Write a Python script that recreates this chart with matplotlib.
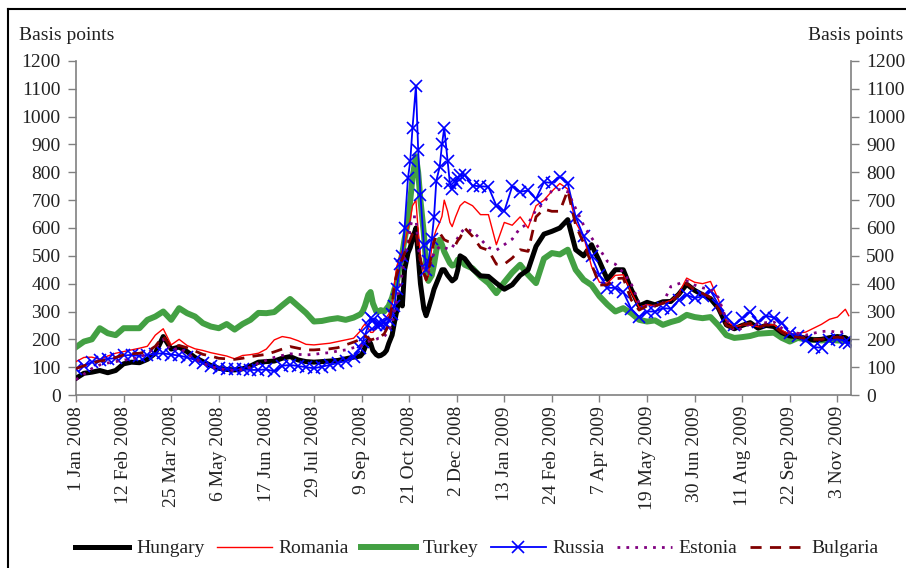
import matplotlib
matplotlib.use('Agg')
import matplotlib.pyplot as plt
from matplotlib.lines import Line2D
import pandas as pd

# sampling dates: weekly, then Mon/Wed/Fri through the autumn 2008 turmoil, then weekly again
weeks_a = pd.date_range('2008-01-01', '2008-09-02', freq='7D')
crisis = pd.bdate_range('2008-09-08', '2008-12-05', freq='C', weekmask='Mon Wed Fri')
weeks_b = pd.date_range('2008-12-09', '2009-11-10', freq='7D')
dates = weeks_a.append(crisis).append(weeks_b).append(pd.DatetimeIndex(['2009-11-13']))

hungary = [60, 78, 82, 88, 80, 88, 112, 118, 116, 128, 150, 210, 165, 172, 156, 135, 120, 106,
           96, 92, 90, 94, 104, 118, 120, 122, 132, 138, 126, 120, 118, 120, 122, 124, 130, 136,
           140, 150, 170, 195, 185, 160, 145, 140, 142, 150, 160, 185, 215, 260, 300, 360, 320, 450,
           510, 530, 560, 600, 500, 400, 310, 285, 310, 350, 380, 400, 430, 450, 450, 430, 420, 410,
           420, 450, 500,
           490, 452, 428, 426, 402, 380, 396, 430, 450, 534, 578, 588, 600, 630, 522, 500, 540, 480,
           415, 450, 450, 380, 320, 333, 324, 335, 336, 362, 398, 376, 360, 346, 312, 252, 238, 250,
           260, 240, 250, 246, 224, 212, 210, 204, 198, 200, 206, 210, 206, 198]
romania = [120, 135, 136, 128, 140, 150, 156, 162, 168, 175, 215, 238, 180, 200, 178, 166, 160, 152,
           146, 140, 130, 142, 145, 150, 165, 198, 210, 205, 195, 182, 180, 183, 186, 192, 198, 204,
           230, 245, 255, 240, 225, 225, 240, 248, 250, 260, 280, 290, 330, 400, 460, 500, 520, 540,
           600, 630, 680, 700, 590, 500, 430, 410, 430, 530, 570, 594, 620, 642, 700, 660, 620, 605,
           640, 660, 680,
           695, 680, 648, 648, 540, 620, 610, 640, 600, 680, 700, 732, 760, 740, 620, 570, 462, 405,
           402, 430, 432, 370, 315, 325, 320, 330, 340, 365, 420, 405, 400, 408, 342, 265, 246, 250,
           252, 245, 252, 252, 232, 218, 222, 226, 240, 254, 272, 280, 308, 285]
turkey = [172, 192, 200, 240, 222, 215, 240, 240, 240, 270, 282, 300, 270, 312, 294, 282, 258, 246,
          240, 255, 235, 255, 270, 295, 294, 298, 322, 345, 320, 295, 264, 266, 272, 276, 270, 278,
          290, 300, 320, 360, 370, 330, 300, 300, 305, 300, 310, 320, 350, 380, 400, 470, 510, 560,
          620, 700, 780, 858, 800, 700, 580, 470, 410, 430, 470, 520, 558, 540, 515, 490, 474, 465,
          470, 486, 490,
          468, 455, 425, 402, 366, 405, 440, 468, 432, 402, 490, 510, 505, 522, 450, 414, 395, 355,
          325, 300, 312, 294, 270, 264, 268, 252, 262, 270, 288, 280, 276, 280, 250, 215, 205, 208,
          212, 220, 222, 224, 205, 192, 205, 200, 198, 196, 198, 196, 195, 195]
russia = [95, 105, 118, 126, 130, 132, 142, 144, 140, 144, 148, 150, 145, 142, 135, 126, 114, 104,
          98, 94, 92, 92, 90, 90, 92, 85, 105, 108, 104, 100, 96, 102, 108, 115, 122, 138,
          170, 190, 215, 250, 275, 270, 250, 255, 255, 262, 250, 270, 290, 320, 380, 470, 500, 600,
          780, 840, 960, 1110, 880, 720, 540, 450, 480, 560, 640, 770, 820, 900, 960, 840, 760, 740,
          760, 780, 790,
          790, 752, 750, 748, 680, 660, 750, 730, 735, 705, 765, 762, 785, 760, 640, 570, 498, 430,
          385, 385, 370, 310, 280, 300, 300, 312, 310, 340, 360, 348, 355, 375, 325, 280, 252, 275,
          300, 262, 285, 278, 258, 222, 212, 196, 172, 170, 196, 202, 192, 186]
estonia = [55, 75, 95, 108, 115, 120, 125, 130, 135, 150, 170, 200, 160, 170, 150, 130, 115, 102,
           95, 90, 88, 92, 100, 115, 125, 135, 142, 148, 146, 144, 146, 150, 152, 158, 162, 170,
           175, 180, 185, 192, 195, 195, 200, 204, 205, 210, 220, 235, 250, 300, 340, 390, 440, 500,
           550, 600, 640, 640, 534, 480, 450, 440, 438, 490, 510, 520, 534, 534, 530, 525, 522, 530,
           550, 565, 580,
           598, 588, 560, 530, 520, 540, 560, 600, 615, 665, 690, 735, 738, 730, 670, 610, 565, 525,
           480, 470, 440, 400, 330, 320, 320, 330, 390, 400, 410, 395, 385, 380, 350, 270, 230, 240,
           255, 255, 260, 262, 240, 225, 222, 215, 222, 228, 230, 225, 228, 225]
bulgaria = [95, 105, 115, 122, 126, 135, 144, 148, 150, 156, 175, 212, 170, 178, 170, 158, 146, 140,
            132, 130, 128, 132, 138, 142, 146, 155, 165, 174, 168, 162, 162, 164, 166, 170, 180, 190,
            200, 210, 212, 205, 198, 200, 205, 208, 210, 220, 235, 255, 320, 400, 430, 470, 490, 510,
            540, 560, 580, 590, 530, 486, 440, 414, 440, 510, 550, 570, 582, 570, 558, 552, 552, 545,
            540, 555, 565,
            600, 570, 530, 520, 470, 470, 492, 522, 516, 640, 668, 660, 660, 735, 610, 546, 470, 395,
            396, 418, 420, 342, 305, 320, 320, 330, 335, 360, 400, 378, 365, 350, 310, 250, 240, 252,
            258, 242, 252, 248, 225, 210, 208, 204, 200, 200, 205, 208, 205, 198]

tick_dates = pd.date_range('2008-01-01', periods=17, freq='42D')
tick_labels = ['1 Jan 2008', '12 Feb 2008', '25 Mar 2008', '6 May 2008', '17 Jun 2008',
               '29 Jul 2008', '9 Sep 2008', '21 Oct 2008', '2 Dec 2008', '13 Jan 2009',
               '24 Feb 2009', '7 Apr 2009', '19 May 2009', '30 Jun 2009', '11 Aug 2009',
               '22 Sep 2009', '3 Nov 2009']

plt.rcParams['font.family'] = ['Liberation Serif', 'DejaVu Serif']
txt = '#222222'
axis_grey = '#808080'

fig = plt.figure(figsize=(9.06, 5.68), dpi=100)
ax = fig.add_axes([76 / 906, 1 - 395 / 568, (851 - 76) / 906, (395 - 61) / 568])

l_hun, = ax.plot(dates, hungary, color='black', lw=3.6, zorder=3, solid_joinstyle='round')
l_rom, = ax.plot(dates, romania, color='#ff0000', lw=1.0, zorder=4)
l_tur, = ax.plot(dates, turkey, color='#43a043', lw=4.3, zorder=2)
l_rus, = ax.plot(dates, russia, color='#0000ff', lw=1.3, marker='x', ms=8, mew=1.2, zorder=5)
l_est, = ax.plot(dates, estonia, color='#800080', lw=2, ls=(0, (1, 2.2)), zorder=6)
l_bul, = ax.plot(dates, bulgaria, color='#800000', lw=2, ls=(0, (4, 3)), zorder=7)

ax.set_ylim(0, 1200)
ax.set_yticks(range(0, 1201, 100))
ax.set_xlim(pd.Timestamp('2008-01-01'), pd.Timestamp('2009-11-15'))
ax.set_xticks(tick_dates)
ax.set_xticklabels(tick_labels, rotation=90, va='top', ha='center')

for side in ['top', 'right']:
    ax.spines[side].set_visible(False)
for side in ['left', 'bottom']:
    ax.spines[side].set_color(axis_grey)
    ax.spines[side].set_linewidth(1.2)
ax.tick_params(axis='y', direction='out', length=6, width=1, color=axis_grey,
               labelsize=14, labelcolor=txt, pad=5)
ax.tick_params(axis='x', direction='out', length=5, width=1, color=axis_grey,
               labelsize=14, labelcolor=txt, pad=3)

ax2 = ax.twinx()
ax2.set_ylim(0, 1200)
ax2.set_yticks(range(0, 1201, 100))
for side in ['top', 'left', 'bottom']:
    ax2.spines[side].set_visible(False)
ax2.spines['right'].set_color(axis_grey)
ax2.spines['right'].set_linewidth(1.2)
ax2.tick_params(axis='y', direction='out', length=6, width=1, color=axis_grey,
                labelsize=14, labelcolor=txt, pad=5)

fig.text(19 / 906, 1 - 35 / 568, 'Basis points', ha='left', va='center', fontsize=14, color=txt)
fig.text(808 / 906, 1 - 35 / 568, 'Basis points', ha='left', va='center', fontsize=14, color=txt)

fig.legend([l_hun, l_rom, l_tur, l_rus, l_est, l_bul],
           ['Hungary', 'Romania', 'Turkey', 'Russia', 'Estonia', 'Bulgaria'],
           loc='center', bbox_to_anchor=(0.526, 0.034), ncol=6, frameon=False,
           handlelength=2.8, handletextpad=0.35, columnspacing=0.65, fontsize=14,
           labelcolor=txt)

# outer frame (only top and left edges fall inside the picture)
fig.add_artist(Line2D([8 / 906, 8 / 906], [0, 1 - 9 / 568], color='black', lw=1.5,
                      transform=fig.transFigure))
fig.add_artist(Line2D([8 / 906, 1], [1 - 9 / 568, 1 - 9 / 568], color='black', lw=1.5,
                      transform=fig.transFigure))

fig.savefig('out.png', dpi=100)
